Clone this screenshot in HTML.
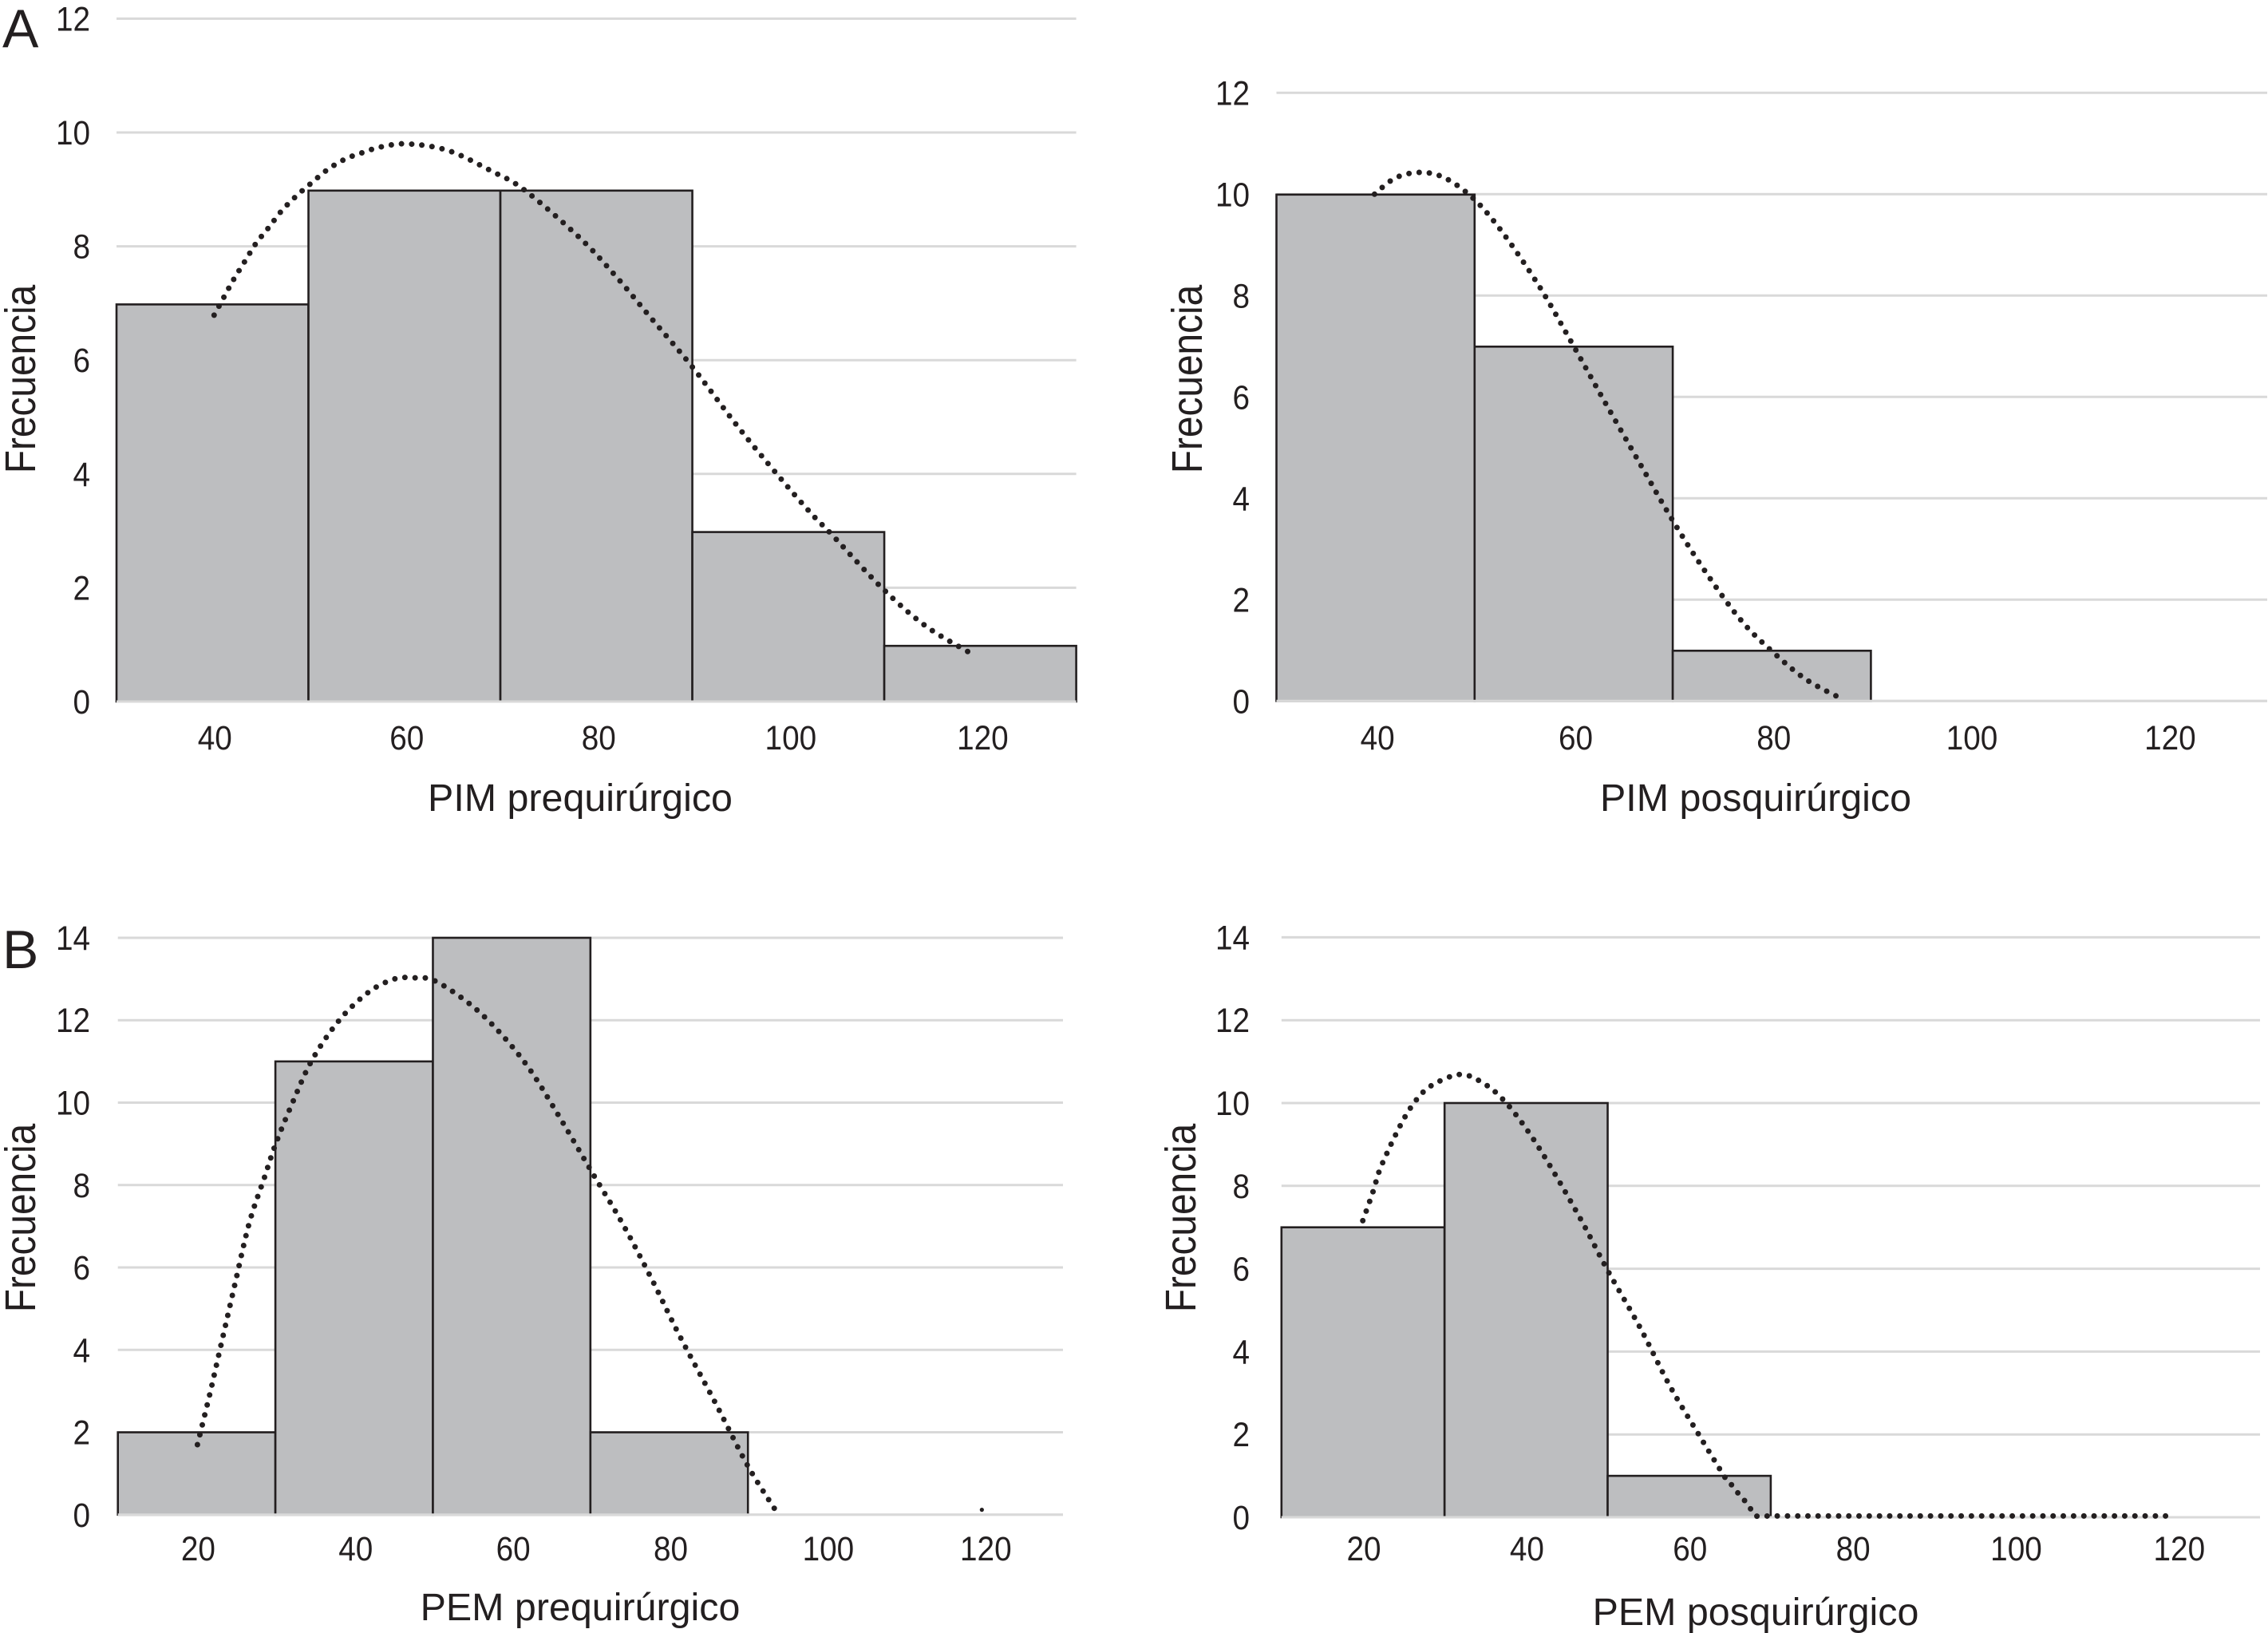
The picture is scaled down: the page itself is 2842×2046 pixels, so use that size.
<!DOCTYPE html>
<html lang="es">
<head>
<meta charset="utf-8">
<title>Histogramas PIM y PEM</title>
<style>
html,body{margin:0;padding:0;background:#fff;width:2842px;height:2046px;overflow:hidden}
svg{display:block}
text{font-family:"Liberation Sans",Arial,sans-serif;fill:#231f20}
</style>
</head>
<body>
<svg id="figure" xmlns="http://www.w3.org/2000/svg" width="2842" height="2046" viewBox="0 0 2842 2046">
  <rect x="0" y="0" width="2842" height="2046" fill="#ffffff"/>
  <text x="3" y="59" font-size="68">A</text>
  <text x="3" y="1213" font-size="68">B</text>
</svg>
<script>
// Panel A, left: PIM prequirurgico
const pimPreEdges = [30, 50, 70, 90, 110, 130];
const pimPreCounts = [7, 9, 9, 3, 1];
const pimPreYTicks = [0, 2, 4, 6, 8, 10, 12];
const pimPreXTicks = [40, 60, 80, 100, 120];
const pimPreCurveX = [40.17, 41.2, 42.25, 43.39, 44.53, 45.86, 47.19, 48.71, 50.29, 52.01, 53.8, 55.69, 57.66, 60.4, 64.6, 69.1, 72.5, 78.2, 81.9, 85.7, 90, 94.7, 98.9, 102.3, 104.5, 109.8, 114.3, 119.2];
const pimPreCurveY = [6.79, 7.11, 7.43, 7.74, 8.05, 8.33, 8.62, 8.88, 9.11, 9.35, 9.53, 9.65, 9.75, 9.8, 9.68, 9.32, 8.99, 8.16, 7.5, 6.74, 5.88, 4.84, 3.98, 3.32, 2.94, 1.99, 1.33, 0.83];

// Panel A, right: PIM posquirurgico
const pimPosEdges = [30, 50, 70, 90];
const pimPosCounts = [10, 7, 1];
const pimPosYTicks = [0, 2, 4, 6, 8, 10, 12];
const pimPosXTicks = [40, 60, 80, 100, 120];
const pimPosCurveX = [39.9, 42, 44.5, 47, 49.9, 52.8, 56.5, 59.8, 63, 66.7, 70, 73.3, 76.9, 80.2, 83.5, 87.3];
const pimPosCurveY = [10, 10.32, 10.43, 10.32, 9.91, 9.25, 8.19, 7.07, 5.95, 4.68, 3.56, 2.55, 1.59, 0.95, 0.42, 0.02];

// Panel B, left: PEM prequirurgico
const pemPreEdges = [10, 30, 50, 70, 90];
const pemPreCounts = [2, 11, 14, 2];
const pemPreYTicks = [0, 2, 4, 6, 8, 10, 12, 14];
const pemPreXTicks = [20, 40, 60, 80, 100, 120];
const pemPreCurveX = [20.1, 21.7, 23, 24.9, 26.7, 28.6, 30, 32.2, 34.7, 38.2, 41.9, 45.1, 47.4, 50.2, 54.7, 58.4, 62.1, 65.7, 70.2, 74, 77.7, 81.3, 85.9, 90, 93.7];
const pemPreCurveY = [1.7, 2.95, 4.04, 5.63, 7.09, 8.18, 8.98, 10.01, 11.05, 12.02, 12.69, 13, 13.03, 12.96, 12.39, 11.72, 10.86, 9.77, 8.31, 7.09, 5.75, 4.35, 2.7, 1.18, 0.05];
const pemPreTailX = [119.7];
const pemPreTailY = [0.12];

// Panel B, right: PEM posquirurgico
const pemPosEdges = [10, 30, 50, 70];
const pemPosCounts = [7, 10, 1];
const pemPosYTicks = [0, 2, 4, 6, 8, 10, 12, 14];
const pemPosXTicks = [20, 40, 60, 80, 100, 120];
const pemPosCurveX = [19.97, 21.24, 21.96, 22.94, 24.01, 25.19, 26.56, 28.38, 31.8, 34.5, 37.2, 40.3, 43.4, 46.9, 50, 54, 57.6, 61.1, 64.4, 65.2, 66, 66.8, 67.5, 68.1, 68.7, 71.8, 80.6, 98.4, 119.6];
const pemPosCurveY = [7.16, 7.87, 8.34, 8.79, 9.24, 9.68, 10.08, 10.42, 10.69, 10.51, 10.08, 9.3, 8.33, 7.12, 5.96, 4.57, 3.18, 2.02, 0.96, 0.78, 0.58, 0.4, 0.21, 0.04, 0.03, 0.03, 0.03, 0.03, 0.03];

const NS = 'http://www.w3.org/2000/svg';
const figure = document.getElementById('figure');

function make(tag, parent) {
  const el = document.createElementNS(NS, tag);
  parent.appendChild(el);
  return el;
}

function smoothPath(xs, ys, sx, sy) {
  const p = xs.map(function (x, i) { return [sx(x), sy(ys[i])]; });
  let d = 'M' + p[0][0].toFixed(1) + ' ' + p[0][1].toFixed(1);
  for (let i = 0; i < p.length - 1; i++) {
    const a = p[Math.max(i - 1, 0)], b = p[i], c = p[i + 1], e = p[Math.min(i + 2, p.length - 1)];
    const c1x = b[0] + (c[0] - a[0]) / 6, c1y = b[1] + (c[1] - a[1]) / 6;
    const c2x = c[0] - (e[0] - b[0]) / 6, c2y = c[1] - (e[1] - b[1]) / 6;
    d += 'C' + c1x.toFixed(1) + ' ' + c1y.toFixed(1) + ' ' + c2x.toFixed(1) + ' ' + c2y.toFixed(1) + ' ' + c[0].toFixed(1) + ' ' + c[1].toFixed(1);
  }
  return d;
}

function drawChart(cfg) {
  const sx = function (v) { return cfg.xLeft + (v - cfg.xMin) * (cfg.xRight - cfg.xLeft) / (cfg.xMax - cfg.xMin); };
  const sy = function (v) { return cfg.yZero - v * cfg.yUnit; };

  const g = make('g', figure);
  
  

  cfg.yTicks.forEach(function (t) {
    const line = make('line', g);
    
    
    line.setAttribute('x1', sx(cfg.xMin));
    line.setAttribute('x2', sx(cfg.xMax));
    line.setAttribute('y1', sy(t));
    line.setAttribute('y2', sy(t));
    line.setAttribute('stroke', '#d9d9d9');
    line.setAttribute('stroke-width', '3');

    const label = make('text', g);
    
    
    label.setAttribute('transform', 'translate(' + cfg.yTickRight + ',' + (sy(t) + 15) + ') scale(0.9,1)');
    label.setAttribute('font-size', '43');
    label.setAttribute('text-anchor', 'end');
    label.textContent = t;
  });

  cfg.counts.forEach(function (c, i) {
    const bar = make('rect', g);
    
    
    bar.setAttribute('x', sx(cfg.edges[i]));
    bar.setAttribute('y', sy(c) + cfg.barDrop);
    bar.setAttribute('width', sx(cfg.edges[i + 1]) - sx(cfg.edges[i]));
    bar.setAttribute('height', sy(0) - sy(c) - cfg.barDrop);
    bar.setAttribute('fill', '#bdbec0');
    bar.setAttribute('stroke', '#231f20');
    bar.setAttribute('stroke-width', '2.6');
  });

  const base = make('line', g);
  
  
  base.setAttribute('x1', sx(cfg.xMin));
  base.setAttribute('x2', sx(cfg.xMax));
  base.setAttribute('y1', sy(0));
  base.setAttribute('y2', sy(0));
  base.setAttribute('stroke', '#d9d9d9');
  base.setAttribute('stroke-width', '3');

  const curve = make('path', g);
  
  
  curve.setAttribute('d', smoothPath(cfg.curveX, cfg.curveY, sx, sy));
  curve.setAttribute('fill', 'none');
  curve.setAttribute('stroke', '#231f20');
  curve.setAttribute('stroke-width', '7');
  curve.setAttribute('stroke-linecap', 'round');
  curve.setAttribute('stroke-dasharray', '0 12.8');

  (cfg.tailX || []).forEach(function (x, i) {
    const dot = make('circle', g);
    
    
    dot.setAttribute('cx', sx(x));
    dot.setAttribute('cy', sy(cfg.tailY[i]));
    dot.setAttribute('r', '2.6');
    dot.setAttribute('fill', '#231f20');
  });

  cfg.xTicks.forEach(function (t) {
    const label = make('text', g);
    
    
    label.setAttribute('transform', 'translate(' + (sx(t) + cfg.xTickShift) + ',' + cfg.xTickBaseline + ') scale(0.9,1)');
    label.setAttribute('font-size', '43');
    label.setAttribute('text-anchor', 'middle');
    label.textContent = t;
  });

  const xTitle = make('text', g);
  
  
  xTitle.setAttribute('x', cfg.xTitleX);
  xTitle.setAttribute('y', cfg.xTitleBaseline);
  xTitle.setAttribute('font-size', '48.4');
  xTitle.setAttribute('text-anchor', 'middle');
  xTitle.textContent = cfg.xTitle;

  const yTitle = make('text', g);
  
  
  yTitle.setAttribute('transform', 'translate(' + cfg.yTitleBaseline + ',' + cfg.yTitleY + ') rotate(-90) scale(0.885,1)');
  yTitle.setAttribute('font-size', '54');
  yTitle.setAttribute('text-anchor', 'middle');
  yTitle.textContent = 'Frecuencia';
}

drawChart({
  name: 'chart-pim-prequirurgico', xTitle: 'PIM prequirúrgico',
  edges: pimPreEdges, counts: pimPreCounts, yTicks: pimPreYTicks, xTicks: pimPreXTicks,
  curveX: pimPreCurveX, curveY: pimPreCurveY, barDrop: 1.5, xTickShift: 3,
  xMin: 30, xMax: 130, xLeft: 146, xRight: 1348.6, yZero: 879, yUnit: 71.3,
  yTickRight: 113, xTickBaseline: 939, xTitleX: 727, xTitleBaseline: 1016,
  yTitleBaseline: 44, yTitleY: 475
});

drawChart({
  name: 'chart-pim-posquirurgico', xTitle: 'PIM posquirúrgico',
  edges: pimPosEdges, counts: pimPosCounts, yTicks: pimPosYTicks, xTicks: pimPosXTicks,
  curveX: pimPosCurveX, curveY: pimPosCurveY, barDrop: 0.5, xTickShift: 2.5,
  xMin: 30, xMax: 130, xLeft: 1599.5, xRight: 2841, yZero: 878.3, yUnit: 63.5,
  yTickRight: 1566, xTickBaseline: 939, xTitleX: 2200, xTitleBaseline: 1016,
  yTitleBaseline: 1506, yTitleY: 475
});

drawChart({
  name: 'chart-pem-prequirurgico', xTitle: 'PEM prequirúrgico',
  edges: pemPreEdges, counts: pemPreCounts, yTicks: pemPreYTicks, xTicks: pemPreXTicks,
  curveX: pemPreCurveX, curveY: pemPreCurveY, tailX: pemPreTailX, tailY: pemPreTailY, barDrop: 0, xTickShift: 2,
  xMin: 10, xMax: 130, xLeft: 147.7, xRight: 1332, yZero: 1897.8, yUnit: 51.63,
  yTickRight: 113, xTickBaseline: 1955, xTitleX: 727, xTitleBaseline: 2030,
  yTitleBaseline: 44, yTitleY: 1526
});

drawChart({
  name: 'chart-pem-posquirurgico', xTitle: 'PEM posquirúrgico',
  edges: pemPosEdges, counts: pemPosCounts, yTicks: pemPosYTicks, xTicks: pemPosXTicks,
  curveX: pemPosCurveX, curveY: pemPosCurveY, barDrop: 0, xTickShift: 1,
  xMin: 10, xMax: 130, xLeft: 1605.8, xRight: 2832, yZero: 1901, yUnit: 51.9,
  yTickRight: 1566, xTickBaseline: 1955, xTitleX: 2200, xTitleBaseline: 2036,
  yTitleBaseline: 1498, yTitleY: 1526
});
</script>
</body>
</html>
